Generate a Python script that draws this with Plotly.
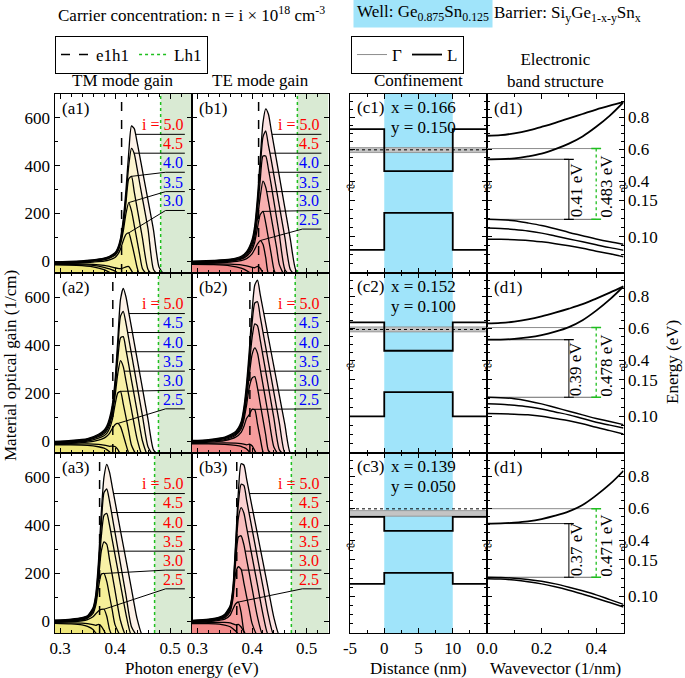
import numpy as np
import plotly.graph_objects as go

W, H = 685, 678
FONT = 'Liberation Serif'

# carrier concentration index i  (n = i x 1e18 cm^-3)
conc = [1.5, 2.0, 2.5, 3.0, 3.5, 4.0, 4.5, 5.0]

# photon energy grids (eV), one per row of panels
energy_r1 = [0.29, 0.33, 0.36, 0.38, 0.39, 0.40, 0.405, 0.41, 0.415, 0.42, 0.425, 0.43, 0.435, 0.44, 0.445, 0.45, 0.46, 0.47, 0.48, 0.49]
energy_r2 = [0.29, 0.32, 0.35, 0.37, 0.38, 0.385, 0.39, 0.395, 0.40, 0.405, 0.41, 0.415, 0.42, 0.425, 0.43, 0.44, 0.45, 0.46, 0.47, 0.48]
energy_r3 = [0.29, 0.32, 0.34, 0.35, 0.36, 0.365, 0.37, 0.375, 0.38, 0.385, 0.39, 0.395, 0.40, 0.41, 0.42, 0.43, 0.44, 0.45, 0.46, 0.47]

# material gain (1/cm), one list per concentration in conc order
gain_a1 = [
    [-16, -18, -24, -36, -47, -60, -60, -60, -60, -60, -60, -60, -60, -60, -60, -60, -60, -60, -60, -60],
    [-14, -15, -18, -26, -33, -42, -50, -60, -60, -60, -60, -60, -60, -60, -60, -60, -60, -60, -60, -60],
    [-12, -12, -14, -18, -22, -28, -31, -32, -29, -24, -23, -40, -60, -60, -60, -60, -60, -60, -60, -60],
    [-10, -9, -4, 0, 5, 15, 28, 50, 85, 112, 118, 78, 28, -25, -60, -60, -60, -60, -60, -60],
    [-8, -6, 0, 5, 12, 24, 40, 70, 125, 200, 245, 210, 150, 88, 25, -32, -60, -60, -60, -60],
    [-6, -4, 2, 8, 15, 28, 45, 80, 145, 245, 345, 355, 290, 225, 160, 95, -35, -60, -60, -60],
    [-5, -2, 4, 10, 18, 32, 50, 88, 160, 270, 400, 472, 450, 390, 325, 262, 135, -35, -60, -60],
    [-3, 0, 5, 12, 20, 35, 55, 95, 175, 300, 455, 566, 555, 500, 440, 378, 255, 130, -25, -60],
]
gain_b1 = [
    [-14, -15, -20, -30, -40, -55, -60, -60, -60, -60, -60, -60, -60, -60, -60, -60, -60, -60, -60, -60],
    [-12, -12, -13, -16, -20, -26, -28, -22, -30, -50, -60, -60, -60, -60, -60, -60, -60, -60, -60, -60],
    [-10, -8, -4, 2, 10, 30, 50, 72, 86, 70, 15, -55, -60, -60, -60, -60, -60, -60, -60, -60],
    [-8, -5, 0, 8, 20, 48, 80, 140, 195, 208, 160, 95, 30, -35, -60, -60, -60, -60, -60, -60],
    [-6, -3, 2, 11, 25, 60, 100, 180, 270, 335, 310, 250, 185, 120, 55, -15, -60, -60, -60, -60],
    [-4, -1, 4, 14, 30, 70, 120, 215, 340, 440, 440, 385, 320, 250, 180, 110, -35, -60, -60, -60],
    [-2, 1, 6, 17, 35, 80, 135, 245, 390, 520, 545, 485, 425, 360, 295, 230, 100, -35, -60, -60],
    [0, 3, 8, 20, 40, 90, 150, 270, 430, 580, 638, 615, 550, 485, 420, 355, 224, 93, -37, -60],
]
gain_a2 = [
    [-16, -16, -18, -24, -30, -36, -45, -60, -60, -60, -60, -60, -60, -60, -60, -60, -60, -60, -60, -60],
    [-14, -13, -12, -14, -17, -19, -22, -21, -23, -35, -55, -60, -60, -60, -60, -60, -60, -60, -60, -60],
    [-12, -10, -5, 4, 12, 20, 32, 52, 68, 73, 60, 25, -15, -50, -60, -60, -60, -60, -60, -60],
    [-10, -7, 0, 12, 22, 32, 52, 88, 150, 200, 207, 155, 98, 40, -18, -60, -60, -60, -60, -60],
    [-8, -4, 4, 18, 30, 43, 66, 110, 185, 280, 335, 310, 250, 190, 130, 10, -60, -60, -60, -60],
    [-6, -2, 6, 22, 36, 50, 76, 125, 210, 340, 430, 435, 380, 317, 253, 127, 0, -60, -60, -60],
    [-4, 0, 8, 25, 40, 56, 85, 138, 230, 380, 520, 540, 490, 426, 362, 233, 104, -24, -60, -60],
    [-2, 2, 10, 28, 45, 62, 95, 150, 250, 420, 590, 636, 600, 536, 473, 345, 218, 90, -37, -60],
]
gain_b2 = [
    [-12, -12, -14, -18, -22, -27, -33, -45, -60, -60, -60, -60, -60, -60, -60, -60, -60, -60, -60, -60],
    [-10, -9, -8, -9, -11, -13, -16, -13, -20, -40, -60, -60, -60, -60, -60, -60, -60, -60, -60, -60],
    [-8, -5, 2, 16, 36, 60, 95, 110, 132, 130, 70, 12, -45, -60, -60, -60, -60, -60, -60, -60],
    [-6, -2, 6, 24, 50, 88, 150, 225, 262, 268, 220, 155, 90, 25, -40, -60, -60, -60, -60, -60],
    [-4, 0, 10, 28, 58, 102, 178, 275, 360, 388, 365, 300, 235, 170, 105, -25, -60, -60, -60, -60],
    [-2, 2, 12, 32, 65, 115, 200, 315, 430, 488, 480, 420, 355, 290, 225, 95, -36, -60, -60, -60],
    [0, 4, 14, 36, 72, 128, 220, 350, 490, 575, 580, 517, 454, 391, 328, 202, 76, -50, -60, -60],
    [2, 6, 16, 40, 80, 140, 240, 380, 540, 650, 670, 610, 550, 490, 430, 310, 190, 70, -50, -60],
]
gain_a3 = [
    [-10, -12, -16, -22, -35, -50, -60, -60, -60, -60, -60, -60, -60, -60, -60, -60, -60, -60, -60, -60],
    [-8, -8, -9, -11, -15, -18, -14, -22, -40, -60, -60, -60, -60, -60, -60, -60, -60, -60, -60, -60],
    [-6, -3, 1, 6, 18, 30, 42, 48, 49, 20, -35, -60, -60, -60, -60, -60, -60, -60, -60, -60],
    [-4, 0, 5, 12, 32, 65, 140, 195, 198, 165, 105, 45, -15, -60, -60, -60, -60, -60, -60, -60],
    [-2, 2, 8, 15, 40, 80, 175, 290, 330, 320, 256, 192, 128, 1, -60, -60, -60, -60, -60, -60],
    [0, 4, 10, 18, 45, 90, 200, 350, 440, 448, 400, 338, 276, 152, 28, -60, -60, -60, -60, -60],
    [2, 6, 12, 20, 50, 100, 225, 400, 535, 550, 500, 435, 369, 238, 107, -24, -60, -60, -60, -60],
    [4, 8, 14, 22, 55, 110, 250, 450, 600, 653, 620, 559, 498, 376, 255, 133, 11, -60, -60, -60],
]
gain_b3 = [
    [-11, -11, -13, -17, -24, -32, -42, -55, -60, -60, -60, -60, -60, -60, -60, -60, -60, -60, -60, -60],
    [-9, -7, -6, -6, -8, -12, -16, -14, -25, -45, -60, -60, -60, -60, -60, -60, -60, -60, -60, -60],
    [-7, -3, 3, 8, 25, 50, 72, 79, 35, -42, -60, -60, -60, -60, -60, -60, -60, -60, -60, -60],
    [-5, 0, 7, 14, 40, 92, 200, 226, 215, 159, 102, 46, -10, -60, -60, -60, -60, -60, -60, -60],
    [-3, 2, 10, 18, 48, 108, 250, 350, 355, 318, 258, 198, 137, 16, -60, -60, -60, -60, -60, -60],
    [-1, 4, 12, 22, 55, 120, 285, 430, 472, 450, 390, 330, 269, 149, 28, -60, -60, -60, -60, -60],
    [1, 6, 14, 25, 60, 130, 310, 490, 570, 565, 505, 444, 384, 263, 143, 22, -60, -60, -60, -60],
    [3, 8, 16, 28, 65, 140, 330, 540, 655, 650, 592, 534, 476, 361, 245, 129, 14, -60, -60, -60],
]

# transition energies (eV) per row
e1h1_pos = [0.412, 0.396, 0.372]
lh1_pos = [0.483, 0.479, 0.472]

# labelled curves per panel
labels_a1 = ['5.0', '4.5', '4.0', '3.5', '3.0']
colors_a1 = ['red', 'red', 'blue', 'blue', 'blue']
labels_b1 = ['5.0', '4.5', '4.0', '3.5', '3.0', '2.5']
colors_b1 = ['red', 'red', 'blue', 'blue', 'blue', 'blue']
labels_r2 = ['5.0', '4.5', '4.0', '3.5', '3.0', '2.5']
colors_r2 = ['red', 'blue', 'blue', 'blue', 'blue', 'blue']
labels_r3 = ['5.0', '4.5', '4.0', '3.5', '3.0', '2.5']
colors_r3 = ['red'] * 6

# confinement profiles (eV), one value per row
cb_barrier = [0.726, 0.636, 0.546]
cb_well = [0.463, 0.459, 0.458]
vb_barrier = [0.082, 0.100, 0.117]
vb_well = [0.133, 0.133, 0.132]
gamma_lo = [0.579, 0.577, 0.550]
gamma_hi = [0.610, 0.608, 0.585]
dotted_level = [0.596, 0.592, 0.596]
z_profile = [-5, 0, 0, 10, 10, 15]
z_ticks = [-5, 0, 5, 10]
sn_x = ['0.166', '0.152', '0.139']
si_y = ['0.150', '0.100', '0.050']

# band structure (eV) vs wavevector (1/nm)
kvec = [0, 0.05, 0.1, 0.15, 0.2, 0.25, 0.3, 0.35, 0.4, 0.45, 0.5]
cb_d1 = [[0.684, 0.688, 0.699, 0.716, 0.74, 0.765, 0.792, 0.82, 0.848, 0.872, 0.894],
         [0.537, 0.538, 0.543, 0.555, 0.572, 0.60, 0.635, 0.68, 0.74, 0.81, 0.894]]
vb_d1 = [[0.124, 0.1235, 0.122, 0.119, 0.1155, 0.111, 0.106, 0.1015, 0.097, 0.093, 0.0895],
         [0.112, 0.1115, 0.110, 0.108, 0.105, 0.101, 0.097, 0.093, 0.089, 0.085, 0.0815],
         [0.0966, 0.0965, 0.096, 0.095, 0.093, 0.0905, 0.0875, 0.084, 0.080, 0.0765, 0.0725]]
cb_d2 = [[0.63, 0.633, 0.641, 0.655, 0.674, 0.697, 0.722, 0.75, 0.785, 0.822, 0.861],
         [0.528, 0.529, 0.533, 0.542, 0.556, 0.578, 0.607, 0.65, 0.71, 0.78, 0.861]]
vb_d2 = [[0.126, 0.1255, 0.124, 0.121, 0.117, 0.112, 0.107, 0.102, 0.097, 0.093, 0.0887],
         [0.117, 0.1165, 0.115, 0.113, 0.110, 0.106, 0.102, 0.097, 0.092, 0.088, 0.084],
         [0.1037, 0.1035, 0.103, 0.102, 0.100, 0.097, 0.094, 0.090, 0.085, 0.0805, 0.076]]
cb_d3 = [[0.504, 0.505, 0.51, 0.518, 0.532, 0.553, 0.58, 0.62, 0.68, 0.75, 0.834]]
vb_d3 = [[0.126, 0.1257, 0.1248, 0.123, 0.1205, 0.117, 0.1125, 0.1075, 0.102, 0.0955, 0.089],
         [0.124, 0.1235, 0.1222, 0.12, 0.117, 0.113, 0.1083, 0.103, 0.0975, 0.0915, 0.0855]]
gamma_level = [0.604, 0.604, 0.597]
gap_l_text = ['0.41 eV', '0.39 eV', '0.37 eV']
gap_g_text = ['0.483 eV', '0.478 eV', '0.471 eV']
k_gap_l = 0.3
k_gap_g = 0.4

# ---- layout geometry (pixels) ----
G_MIN, G_MAX = -50, 700
UP_RANGE = [0.37, 0.945]
LO_RANGE = [0.05, 0.17]
gain_cols = [(54.5, 192), (192, 328.5)]
cd_cols = [(350, 487), (487, 623.5)]
rows_px = [(94, 273), (273, 453), (453, 633)]
UP_H = 92

fill_tm = ['#efe77c', '#f2ea85', '#f4ed8f', '#f6ef99', '#f8f1a6', '#faf3b8', '#fcf4d0', '#fdf2e8']
fill_te = ['#f28a8a', '#f39292', '#f59c9c', '#f6a4a4', '#f8b0b0', '#f9bebe', '#fbd0d0', '#fde4e4']
GREEN = '#1fbf1f'
WELL_BLUE = '#a0e4fa'


def sfx(n):
    return '' if n == 1 else str(n)


def fx(p):
    return p / W


def fy(p):
    return 1 - p / H


tickfont = dict(family=FONT, size=17, color='black')
base_axis = dict(showline=True, linecolor='black', linewidth=1, ticks='inside', ticklen=5,
                 tickcolor='black', showgrid=False, zeroline=False, tickfont=tickfont)

fig = go.Figure()
layout = {}
shapes = []
annotations = []


def ann(text, x, y, xref='paper', yref='paper', size=16, color='black', **kw):
    d = dict(text=text, x=x, y=y, xref=xref, yref=yref, showarrow=False,
             xanchor='center', yanchor='middle',
             font=dict(family=FONT, size=size, color=color))
    d.update(kw)
    annotations.append(d)


gain_panels = [
    (1, 0, 0, '(a1)', energy_r1, gain_a1, labels_a1, colors_a1, fill_tm),
    (2, 0, 1, '(b1)', energy_r1, gain_b1, labels_b1, colors_b1, fill_te),
    (3, 1, 0, '(a2)', energy_r2, gain_a2, labels_r2, colors_r2, fill_tm),
    (4, 1, 1, '(b2)', energy_r2, gain_b2, labels_r2, colors_r2, fill_te),
    (5, 2, 0, '(a3)', energy_r3, gain_a3, labels_r3, colors_r3, fill_tm),
    (6, 2, 1, '(b3)', energy_r3, gain_b3, labels_r3, colors_r3, fill_te),
]
label_levels = [531, 452, 372, 291, 212, 134]
X_ELBOW, X_END = 0.492, 0.527
SPL = dict(shape='spline', smoothing=0.6)

first_vlines = True
for n, r, c, tag, e, g, labs, cols, fills in gain_panels:
    s = sfx(n)
    ax = dict(xaxis='x' + s, yaxis='y' + s)
    x0, x1 = gain_cols[c]
    y0, y1 = rows_px[r]
    layout['xaxis' + s] = dict(base_axis, domain=[fx(x0), fx(x1)], anchor='y' + s, range=[0.29, 0.54],
                               tick0=0.3, dtick=0.1, tickformat='.1f', mirror='ticks',
                               showticklabels=(r == 2),
                               minor=dict(ticks='inside', ticklen=3, tick0=0.3, dtick=0.02, tickcolor='black'))
    layout['yaxis' + s] = dict(base_axis, domain=[fy(y1), fy(y0)], anchor='x' + s, range=[G_MIN, G_MAX],
                               tick0=0, dtick=200, mirror='ticks', showticklabels=(c == 0),
                               minor=dict(ticks='inside', ticklen=3, tick0=0, dtick=100, tickcolor='black'))
    shapes.append(dict(type='rect', xref='x' + s, yref='y' + s + ' domain', x0=lh1_pos[r], x1=0.54,
                       y0=0, y1=1, fillcolor='#d9ead3', line=dict(width=0), layer='below'))
    # filled areas, highest concentration first so lower ones sit on top
    for k in reversed(range(len(conc))):
        fig.add_trace(go.Scatter(x=[e[0], e[-1]], y=[G_MIN, G_MIN], mode='lines', line=dict(width=0),
                                 showlegend=False, hoverinfo='skip', **ax))
        fig.add_trace(go.Scatter(x=e, y=g[k], mode='lines', line=dict(width=0, **SPL), fill='tonexty',
                                 fillcolor=fills[k], showlegend=False, hoverinfo='skip', **ax))
    for k in range(len(conc)):
        fig.add_trace(go.Scatter(x=e, y=g[k], mode='lines', line=dict(color='black', width=1.3, **SPL),
                                 showlegend=False, name=f'i = {conc[k]}', **ax))
    fig.add_trace(go.Scatter(x=[e1h1_pos[r]] * 2, y=[G_MIN, G_MAX], mode='lines', name='e1h1',
                             line=dict(color='black', width=1.5, dash='dash'), showlegend=first_vlines,
                             legend='legend', legendrank=1, **ax))
    fig.add_trace(go.Scatter(x=[lh1_pos[r]] * 2, y=[G_MIN, G_MAX], mode='lines', name='Lh1',
                             line=dict(color=GREEN, width=1.5, dash='dot'), showlegend=first_vlines,
                             legend='legend', legendrank=2, **ax))
    first_vlines = False
    # curve labels with leader lines
    for j, (lab, col) in enumerate(zip(labs, cols)):
        k = conc.index(float(lab))
        ga = np.array(g[k], dtype=float)
        ea = np.array(e, dtype=float)
        ip = int(np.argmax(ga))
        yl = label_levels[j]
        if ga[ip] > yl:
            xs = float(np.interp(yl, ga[ip:][::-1], ea[ip:][::-1]))
            lx, ly = [xs, X_END], [yl, yl]
        else:
            lx, ly = [ea[ip], X_ELBOW, X_END], [ga[ip], yl, yl]
        fig.add_trace(go.Scatter(x=lx, y=ly, mode='lines', line=dict(color='black', width=1),
                                 showlegend=False, hoverinfo='skip', **ax))
        ann(('i = ' if j == 0 else '') + lab, X_END, yl + 40, xref='x' + s, yref='y' + s,
            xanchor='right', color=col, size=16)
    ann(tag, fx(x0 + 5), fy(y0 + 14), xanchor='left', size=17)

# ---- confinement and band structure panels ----
cb_sets = [cb_d1, cb_d2, cb_d3]
vb_sets = [vb_d1, vb_d2, vb_d3]
legend2_done = False
for r in range(3):
    top, bot = rows_px[r]
    mid = top + UP_H
    for col in range(2):
        cx0, cx1 = cd_cols[col]
        for seg in range(2):
            n = 7 + r * 4 + col * 2 + seg
            s = sfx(n)
            if seg == 0:
                ydom = [fy(mid), fy(top)]
                yrng = UP_RANGE
                yt = dict(tick0=0, dtick=0.2, tickformat='.1f',
                          minor=dict(ticks='inside', ticklen=3, tick0=0, dtick=0.05, tickcolor='black'))
            else:
                ydom = [fy(bot), fy(mid)]
                yrng = LO_RANGE
                yt = dict(tickmode='array', tickvals=[0.10, 0.15], tickformat='.2f',
                          minor=dict(ticks='inside', ticklen=3, tick0=0, dtick=0.0125, tickcolor='black'))
            if col == 0:
                xt = dict(range=[-5, 15], tickmode='array', tickvals=z_ticks,
                          ticktext=[str(v) for v in z_ticks],
                          minor=dict(ticks='inside', ticklen=3, tick0=0, dtick=2.5, tickcolor='black'))
            else:
                xt = dict(range=[0, 0.5], tick0=0, dtick=0.2, tickformat='.1f',
                          minor=dict(ticks='inside', ticklen=3, tick0=0, dtick=0.1, tickcolor='black'))
            layout['xaxis' + s] = dict(base_axis, domain=[fx(cx0), fx(cx1)], anchor='y' + s,
                                       side='top' if seg == 0 else 'bottom', mirror=False,
                                       showticklabels=(seg == 1 and r == 2), **xt)
            layout['yaxis' + s] = dict(base_axis, domain=ydom, anchor='x' + s, range=yrng,
                                       side='right' if col == 1 else 'left', mirror='ticks',
                                       showticklabels=(col == 1), **yt)
            if col == 0:
                shapes.append(dict(type='rect', xref='x' + s, yref='y' + s + ' domain', x0=0, x1=10,
                                   y0=0, y1=1, fillcolor=WELL_BLUE, line=dict(width=0), layer='below'))

    # confinement profile
    nu = sfx(7 + r * 4)
    nl = sfx(7 + r * 4 + 1)
    up = dict(xaxis='x' + nu, yaxis='y' + nu)
    lo = dict(xaxis='x' + nl, yaxis='y' + nl)
    fig.add_trace(go.Scatter(x=[-5, 15], y=[gamma_lo[r]] * 2, mode='lines',
                             line=dict(color='#8c8c8c', width=0.8), showlegend=False, **up))
    fig.add_trace(go.Scatter(x=[-5, 15], y=[gamma_hi[r]] * 2, mode='lines', fill='tonexty',
                             fillcolor='#c4c4c4', line=dict(color='#8c8c8c', width=0.8),
                             showlegend=False, **up))
    fig.add_trace(go.Scatter(x=[-5, 15], y=[dotted_level[r]] * 2, mode='lines',
                             line=dict(color='black', width=1, dash='dot'), showlegend=False, **up))
    cb_y = [cb_barrier[r], cb_barrier[r], cb_well[r], cb_well[r], cb_barrier[r], cb_barrier[r]]
    vb_y = [vb_barrier[r], vb_barrier[r], vb_well[r], vb_well[r], vb_barrier[r], vb_barrier[r]]
    fig.add_trace(go.Scatter(x=z_profile, y=cb_y, mode='lines', line=dict(color='black', width=1.8),
                             showlegend=False, **up))
    fig.add_trace(go.Scatter(x=z_profile, y=vb_y, mode='lines', line=dict(color='black', width=1.8),
                             showlegend=False, **lo))
    ann(f'(c{r + 1})', fx(cd_cols[0][0] + 5), fy(top + 13), xanchor='left', size=17)
    ann(f'x = {sn_x[r]}', fx(389), fy(top + 13), xanchor='left', size=17)
    ann(f'y = {si_y[r]}', fx(389), fy(top + 33), xanchor='left', size=17)

    # band structure
    du = sfx(7 + r * 4 + 2)
    dl = sfx(7 + r * 4 + 3)
    dup = dict(xaxis='x' + du, yaxis='y' + du)
    dlo = dict(xaxis='x' + dl, yaxis='y' + dl)
    e1 = min(b[0] for b in cb_sets[r])
    hh1 = max(b[0] for b in vb_sets[r])
    fig.add_trace(go.Scatter(x=[0, k_gap_g], y=[gamma_level[r]] * 2, mode='lines', name='Γ',
                             line=dict(color='#8c8c8c', width=1), showlegend=not legend2_done,
                             legend='legend2', legendrank=1, **dup))
    fig.add_trace(go.Scatter(x=[0, k_gap_l], y=[e1, e1], mode='lines', line=dict(color='black', width=0.8),
                             showlegend=False, **dup))
    fig.add_trace(go.Scatter(x=[0, k_gap_g], y=[hh1, hh1], mode='lines', line=dict(color='#444444', width=0.8),
                             showlegend=False, **dlo))
    for j, band in enumerate(cb_sets[r]):
        fig.add_trace(go.Scatter(x=kvec, y=band, mode='lines', name='L',
                                 line=dict(color='black', width=1.8, shape='spline'),
                                 showlegend=(not legend2_done and j == 0), legend='legend2',
                                 legendrank=2, **dup))
    legend2_done = True
    for band in vb_sets[r]:
        fig.add_trace(go.Scatter(x=kvec, y=band, mode='lines', line=dict(color='black', width=1.5, shape='spline'),
                                 showlegend=False, **dlo))
    for axd in (dup, dlo):
        fig.add_trace(go.Scatter(x=[k_gap_l] * 2, y=[e1, hh1], mode='lines+markers',
                                 line=dict(color='black', width=1),
                                 marker=dict(symbol='line-ew', size=7, line=dict(width=1.2, color='black')),
                                 showlegend=False, **axd))
        fig.add_trace(go.Scatter(x=[k_gap_g] * 2, y=[gamma_level[r], hh1], mode='lines+markers',
                                 line=dict(color=GREEN, width=1.3, dash='dot'),
                                 marker=dict(symbol='line-ew', size=7, line=dict(width=1.5, color=GREEN)),
                                 showlegend=False, **axd))
    ann(gap_l_text[r], 0.327, fy(mid + 4), xref='x' + du, textangle=-90, size=17)
    ann(gap_g_text[r], 0.435, fy(mid), xref='x' + du, textangle=-90, size=17)
    ann('(d1)', fx(cd_cols[1][0] + 5), fy(top + 14), xanchor='left', size=17)
    for bx in (350, 487, 623.5):
        ann('≈', fx(bx), fy(mid), size=16, textangle=-30)

# ---- headers and axis titles ----
ann('Carrier concentration: n = i × 10<sup>18</sup> cm<sup>-3</sup>', fx(56), fy(14), xanchor='left', size=17)
ann('Well: Ge<sub>0.875</sub>Sn<sub>0.125</sub>', fx(353), fy(13), xanchor='left',
    bgcolor=WELL_BLUE, borderpad=3, size=17)
ann('Barrier: Si<sub>y</sub>Ge<sub>1-x-y</sub>Sn<sub>x</sub>', fx(492), fy(14), xanchor='left', size=17)
ann('TM mode gain', fx(123), fy(80), size=17)
ann('TE mode gain', fx(260), fy(80), size=17)
ann('Confinement', fx(418), fy(80), size=17)
ann('Electronic<br>band structure', fx(555), fy(71), size=17)
ann('Photon energy (eV)', fx(192), fy(668), size=17)
ann('Distance (nm)', fx(418), fy(668), size=17)
ann('Wavevector (1/nm)', fx(555), fy(668), size=17)
ann('Material optical gain (1/cm)', fx(11), fy(366), size=17, textangle=-90)
ann('Energy (eV)', fx(672), fy(362), size=17, textangle=-90)

legend_style = dict(orientation='h', xanchor='left', yanchor='top', bordercolor='black', borderwidth=1,
                    bgcolor='white', font=dict(family=FONT, size=17, color='black'), itemwidth=30,
                    traceorder='normal')
layout['legend'] = dict(legend_style, x=fx(55), y=fy(36))
layout['legend2'] = dict(legend_style, x=fx(351), y=fy(36))

fig.update_layout(
    width=W, height=H,
    margin=dict(l=0, r=0, t=0, b=0, autoexpand=False),
    paper_bgcolor='white', plot_bgcolor='white',
    font=dict(family=FONT, size=16, color='black'),
    showlegend=True,
    shapes=shapes,
    annotations=annotations,
    **layout,
)

reset_page = ("document.documentElement.style.margin='0px';"
              "document.body.style.margin='0px';"
              "document.body.style.padding='0px';"
              "document.body.style.overflow='hidden';")
fig.write_html('out.html', config={'displayModeBar': False}, post_script=reset_page)
